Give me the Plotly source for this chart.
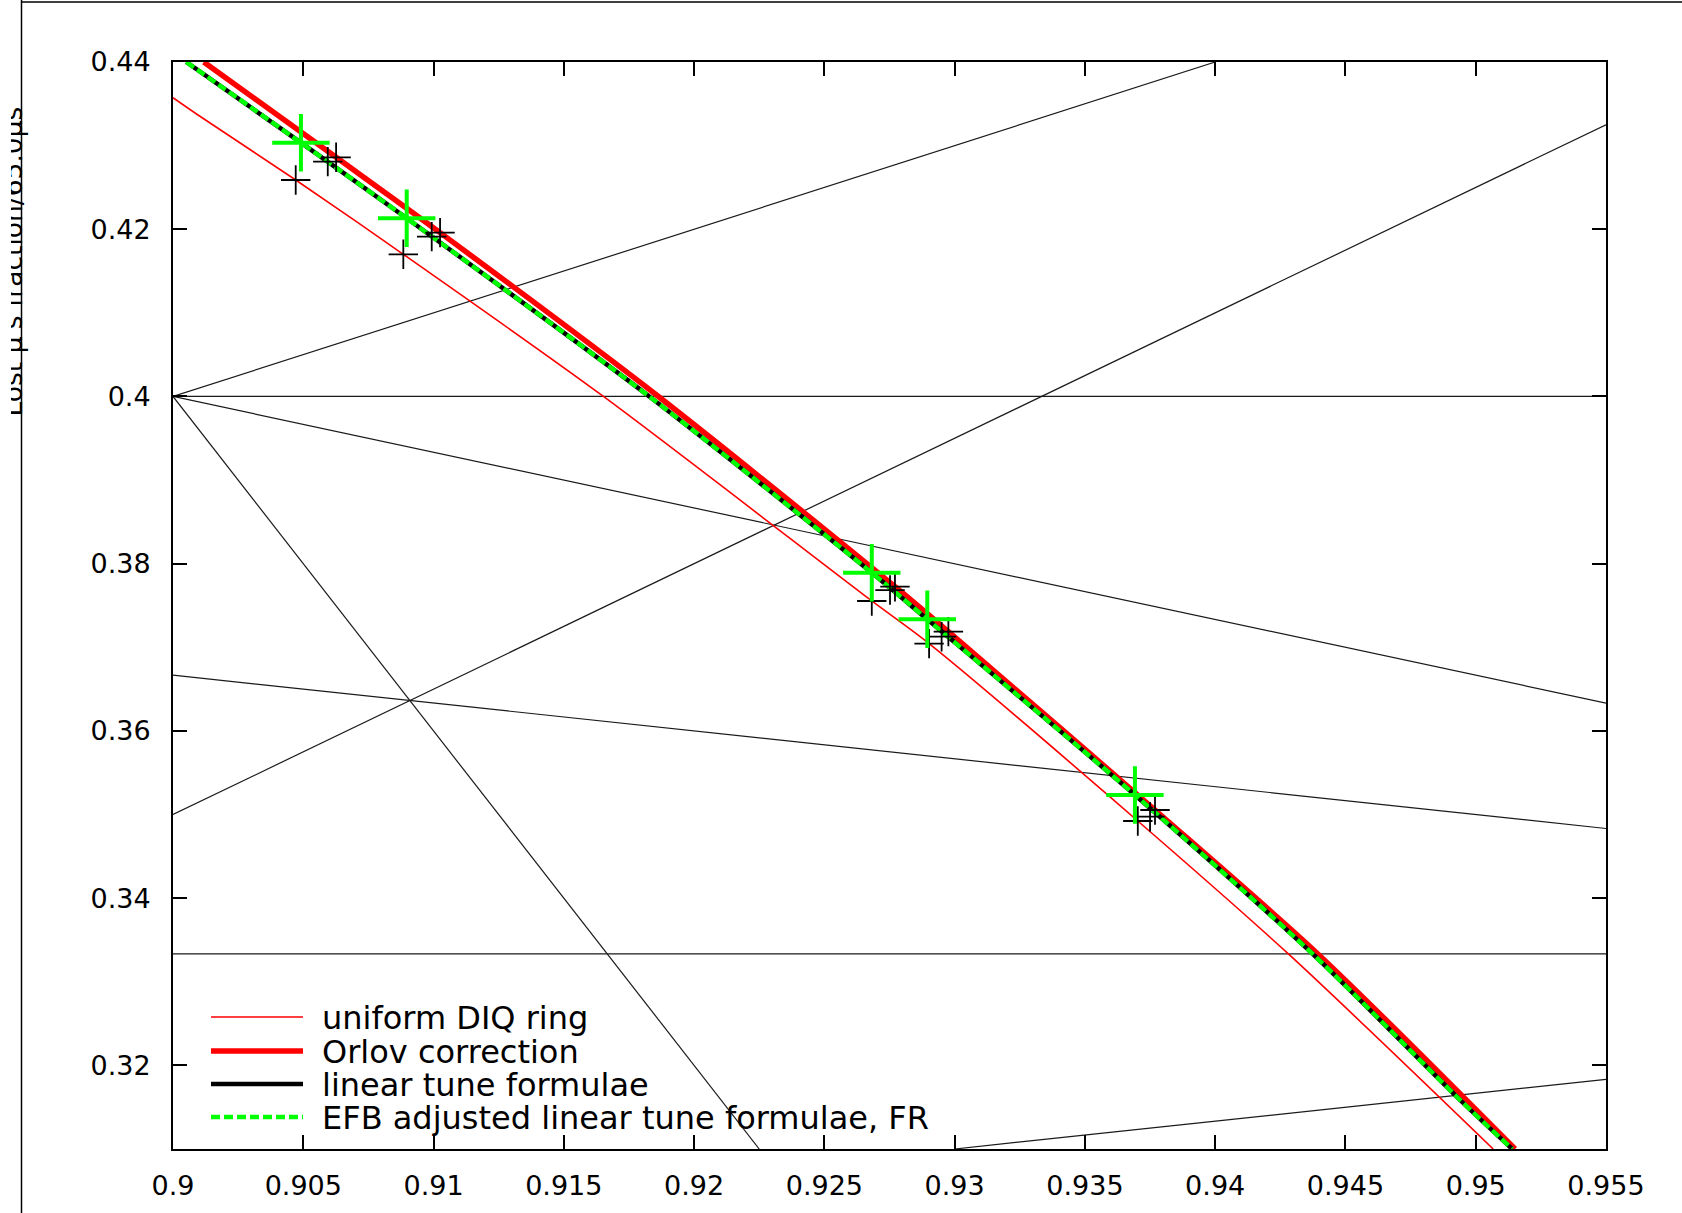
import plotly.graph_objects as go

# ---------------- data ----------------
x_ticks = [0.9, 0.905, 0.91, 0.915, 0.92, 0.925, 0.93, 0.935, 0.94, 0.945, 0.95, 0.955]
x_tick_labels = ["0.9", "0.905", "0.91", "0.915", "0.92", "0.925", "0.93",
                 "0.935", "0.94", "0.945", "0.95", "0.955"]
y_ticks = [0.32, 0.34, 0.36, 0.38, 0.40, 0.42, 0.44]
y_tick_labels = ["0.32", "0.34", "0.36", "0.38", "0.4", "0.42", "0.44"]

# resonance lines (thin black), endpoints
res_x0 = [0.900, 0.900, 0.900, 0.900, 0.900, 0.900, 0.900, 0.930]
res_y0 = [0.4000, 0.33333, 0.4000, 0.4000, 0.4000, 0.3500, 0.36667, 0.3100]
res_x1 = [0.955, 0.955, 0.940, 0.955, 0.9225, 0.955, 0.955, 0.955]
res_y1 = [0.4000, 0.33333, 0.4400, 0.36333, 0.3100, 0.4325, 0.34833, 0.31833]

# uniform DIQ ring (thin red)
uniform_x = [0.9000, 0.90096, 0.90471, 0.90884, 0.91652, 0.92682, 0.92902, 0.93703, 0.94281, 0.95067]
uniform_y = [0.43573, 0.43366, 0.42589, 0.41700, 0.40000, 0.37554, 0.37044, 0.34923, 0.33333, 0.31000]

# Orlov correction (thick red)
orlov_x = [0.90118, 0.90626, 0.91025, 0.91863, 0.92771, 0.92976, 0.93769, 0.94394, 0.95151]
orlov_y = [0.44000, 0.42860, 0.41959, 0.40000, 0.37725, 0.37187, 0.35054, 0.33333, 0.31000]

# linear tune formulae (black)
linear_x = [0.90051, 0.90491, 0.90897, 0.91828, 0.92682, 0.92895, 0.93692, 0.94374, 0.94940, 0.95140]
linear_y = [0.44000, 0.43035, 0.42131, 0.40000, 0.37892, 0.37335, 0.35234, 0.33333, 0.31586, 0.31000]

# EFB adjusted linear tune formulae, FR (green dashed)
efb_x = [0.90051, 0.90491, 0.90897, 0.91828, 0.92682, 0.92895, 0.93692, 0.94374, 0.94940, 0.95140]
efb_y = [0.44000, 0.43035, 0.42131, 0.40000, 0.37892, 0.37335, 0.35234, 0.33333, 0.31586, 0.31000]

# black "+" points
pts_black_x = [0.90471, 0.90594, 0.90626, 0.90884, 0.90993, 0.91025, 0.92682, 0.92752, 0.92771,
               0.92902, 0.92950, 0.92976, 0.93703, 0.93750, 0.93769]
pts_black_y = [0.42589, 0.42808, 0.42860, 0.41700, 0.41911, 0.41959, 0.37554, 0.37685, 0.37725,
               0.37044, 0.37127, 0.37187, 0.34923, 0.34974, 0.35054]

# green "+" points
pts_green_x = [0.90491, 0.90897, 0.92682, 0.92895, 0.93692]
pts_green_y = [0.43035, 0.42131, 0.37892, 0.37335, 0.35234]

legend_labels = ["uniform DIQ ring", "Orlov correction", "linear tune formulae",
                 "EFB adjusted linear tune formulae, FR"]
y_title = "Lost \u00b5's fraction/65.0\u00b5s"

# ---------------- layout geometry (pixels) ----------------
W, H = 1682, 1213
L, R, T, B = 173, 1606, 62, 1149


def px_x(p):
    return (p - L) / (R - L)


def px_y(p):
    return (B - p) / (B - T)


RED = "#ff0000"
GREEN = "#00ff00"
FONT = "DejaVu Sans"

fig = go.Figure()

for i in range(len(res_x0)):
    fig.add_trace(go.Scatter(x=[res_x0[i], res_x1[i]], y=[res_y0[i], res_y1[i]],
                             mode="lines", line=dict(color="#1a1a1a", width=1.2),
                             hoverinfo="skip", showlegend=False))

fig.add_trace(go.Scatter(x=uniform_x, y=uniform_y, mode="lines", name=legend_labels[0],
                         line=dict(color=RED, width=1.6, shape="spline", smoothing=0.8)))
fig.add_trace(go.Scatter(x=orlov_x, y=orlov_y, mode="lines", name=legend_labels[1],
                         line=dict(color=RED, width=5.5, shape="spline", smoothing=0.8)))
fig.add_trace(go.Scatter(x=linear_x, y=linear_y, mode="lines", name=legend_labels[2],
                         line=dict(color="black", width=4.5, shape="spline", smoothing=0.8)))
fig.add_trace(go.Scatter(x=efb_x, y=efb_y, mode="lines", name=legend_labels[3],
                         line=dict(color=GREEN, width=4.5, dash="9px,4px",
                                   shape="spline", smoothing=0.8)))

fig.add_trace(go.Scatter(x=pts_black_x, y=pts_black_y, mode="markers", showlegend=False,
                         marker=dict(symbol="cross-thin", size=21,
                                     line=dict(color="black", width=1.8))))
fig.add_trace(go.Scatter(x=pts_green_x, y=pts_green_y, mode="markers", showlegend=False,
                         marker=dict(symbol="cross-thin", size=41,
                                     line=dict(color=GREEN, width=4))))

axis_common = dict(showline=True, linecolor="black", linewidth=2, mirror="ticks",
                   ticks="inside", ticklen=14, tickwidth=1.5, tickcolor="black",
                   showgrid=False, zeroline=False,
                   tickfont=dict(family=FONT, size=27, color="black"))

fig.update_xaxes(range=[0.9, 0.955], tickvals=x_ticks, ticktext=x_tick_labels,
                 ticklabelstandoff=12, **axis_common)
fig.update_yaxes(range=[0.31, 0.44], tickvals=y_ticks, ticktext=y_tick_labels,
                 ticklabelstandoff=15, **axis_common)

# manual legend (long line samples as in the reference)
rows = [1017, 1051, 1084, 1117]
styles = [dict(color=RED, width=1.6), dict(color=RED, width=5.5),
          dict(color="black", width=4.5), dict(color=GREEN, width=4.5, dash="9px,4px")]
shapes = []
annotations = []
for lab, ry, st in zip(legend_labels, rows, styles):
    shapes.append(dict(type="line", xref="paper", yref="paper",
                       x0=px_x(211), x1=px_x(303), y0=px_y(ry), y1=px_y(ry), line=st))
    annotations.append(dict(text=lab, xref="paper", yref="paper", x=px_x(320), y=px_y(ry),
                            xanchor="left", yanchor="middle", yshift=-1, showarrow=False,
                            font=dict(family=FONT, size=32, color="black")))

# y-axis title (its upper half is cut off at the left edge, as in the reference)
annotations.append(dict(text=y_title, xref="paper", yref="paper", x=px_x(22), y=px_y(262),
                        xanchor="right", yanchor="middle", xshift=7, showarrow=False,
                        textangle=-90, font=dict(family=FONT, size=26.5, color="black")))
# white strip at the very left edge that hides the top of the y title
annotations.append(dict(text=" ", xref="paper", yref="paper", x=px_x(0), y=px_y(262),
                        xanchor="left", yanchor="middle", showarrow=False,
                        width=11, height=420, bgcolor="white", borderpad=0, borderwidth=0))

# outer frame lines of the page
shapes.append(dict(type="line", xref="paper", yref="paper", x0=px_x(21.5), x1=px_x(21.5),
                   y0=px_y(0), y1=px_y(H), line=dict(color="black", width=1.5)))
shapes.append(dict(type="line", xref="paper", yref="paper", x0=px_x(21.5), x1=px_x(W),
                   y0=px_y(2), y1=px_y(2), line=dict(color="black", width=1.5)))

fig.update_layout(width=W, height=H, margin=dict(l=L, r=W - R, t=T, b=H - B, pad=0),
                  paper_bgcolor="white", plot_bgcolor="white", showlegend=False,
                  shapes=shapes, annotations=annotations)

fig.write_html("out.html")
